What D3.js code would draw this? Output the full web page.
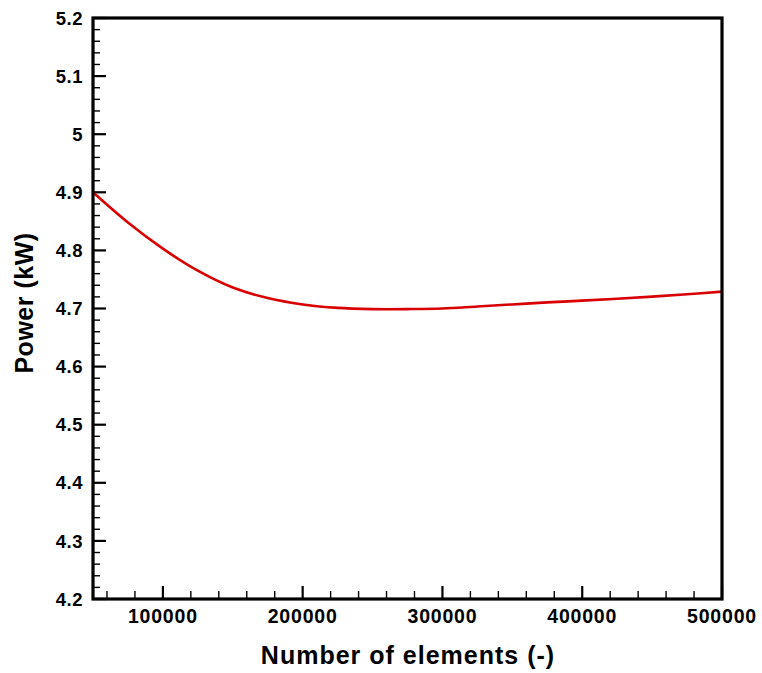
<!DOCTYPE html>
<html>
<head>
<meta charset="utf-8">
<script src="https://cdn.jsdelivr.net/npm/d3@7"></script>
<style>
  html, body { margin: 0; padding: 0; background: #fff; }
  svg text { font-family: "Liberation Sans", Arial, Helvetica, sans-serif; font-weight: bold; fill: #000; }
</style>
</head>
<body>
<svg id="chart" width="762" height="673"></svg>
<script>
// Mesh independence study: predicted power vs. number of mesh elements
const elements = [50000, 75000, 100000, 125000, 150000, 175000, 200000, 225000, 250000, 275000, 300000, 325000, 350000, 375000, 400000, 425000, 450000, 475000, 500000];
const powerKW  = [4.900, 4.848, 4.803, 4.765, 4.736, 4.718, 4.707, 4.701, 4.699, 4.699, 4.700, 4.7035, 4.707, 4.7105, 4.7135, 4.7168, 4.7205, 4.7245, 4.729];

const xMajorTicks = [100000, 200000, 300000, 400000, 500000];
const yMajorTicks = [4.2, 4.3, 4.4, 4.5, 4.6, 4.7, 4.8, 4.9, 5.0, 5.1, 5.2];

const xLabel = "Number of elements (-)";
const yLabel = "Power (kW)";

const svg = d3.select("#chart");
const plot = { left: 93, right: 722, top: 18, bottom: 599 };

const x = d3.scaleLinear().domain([50000, 500000]).range([plot.left, plot.right]);
const y = d3.scaleLinear().domain([4.2, 5.2]).range([plot.bottom, plot.top]);

// minor ticks every fifth of a major interval
const xMinor = d3.range(60000, 500001, 20000).filter(v => !xMajorTicks.includes(v));
const yMinor = d3.range(0, 51).map(i => 4.2 + i * 0.02).filter(v => Math.abs(Math.round(v * 10) - v * 10) > 1e-6);

// bottom axis ticks (pointing into the plot)
const gx = svg.append("g");
gx.selectAll("line.maj").data(xMajorTicks).join("line").attr("class", "maj")
  .attr("x1", d => x(d)).attr("x2", d => x(d))
  .attr("y1", plot.bottom).attr("y2", plot.bottom - 13)
  .attr("stroke", "#000").attr("stroke-width", 2.2);
gx.selectAll("line.min").data(xMinor).join("line").attr("class", "min")
  .attr("x1", d => x(d)).attr("x2", d => x(d))
  .attr("y1", plot.bottom).attr("y2", plot.bottom - 8)
  .attr("stroke", "#000").attr("stroke-width", 1.4);
gx.selectAll("text").data(xMajorTicks).join("text")
  .attr("x", d => x(d)).attr("y", 623)
  .attr("text-anchor", "middle")
  .attr("font-size", 19.5)
  .attr("letter-spacing", 0.8)
  .text(d => d3.format("d")(d));

// left axis ticks
const gy = svg.append("g");
gy.selectAll("line.maj").data(yMajorTicks).join("line").attr("class", "maj")
  .attr("x1", plot.left).attr("x2", plot.left + 13)
  .attr("y1", d => y(d)).attr("y2", d => y(d))
  .attr("stroke", "#000").attr("stroke-width", 2.2);
gy.selectAll("line.min").data(yMinor).join("line").attr("class", "min")
  .attr("x1", plot.left).attr("x2", plot.left + 7)
  .attr("y1", d => y(d)).attr("y2", d => y(d))
  .attr("stroke", "#000").attr("stroke-width", 1.4);
gy.selectAll("text").data(yMajorTicks).join("text")
  .attr("x", 83).attr("y", d => y(d))
  .attr("dy", "0.36em")
  .attr("text-anchor", "end")
  .attr("font-size", 18.5)
  .attr("letter-spacing", 0.5)
  .text(d => String(+d.toFixed(1)));

// data curve
const line = d3.line()
  .x((d, i) => x(elements[i]))
  .y(d => y(d))
  .curve(d3.curveCatmullRom.alpha(0.5));
svg.append("path")
  .datum(powerKW)
  .attr("d", line)
  .attr("fill", "none")
  .attr("stroke", "#d80000")
  .attr("stroke-width", 2.6);

// plot frame
svg.append("rect")
  .attr("x", plot.left).attr("y", plot.top)
  .attr("width", plot.right - plot.left).attr("height", plot.bottom - plot.top)
  .attr("fill", "none").attr("stroke", "#000").attr("stroke-width", 3.2);

// axis titles
svg.append("text")
  .attr("x", 408).attr("y", 664)
  .attr("text-anchor", "middle")
  .attr("font-size", 25)
  .attr("letter-spacing", 1)
  .text(xLabel);
svg.append("text")
  .attr("transform", "translate(33,303) rotate(-90)")
  .attr("text-anchor", "middle")
  .attr("font-size", 25)
  .attr("letter-spacing", 0.5)
  .text(yLabel);
</script>
</body>
</html>
